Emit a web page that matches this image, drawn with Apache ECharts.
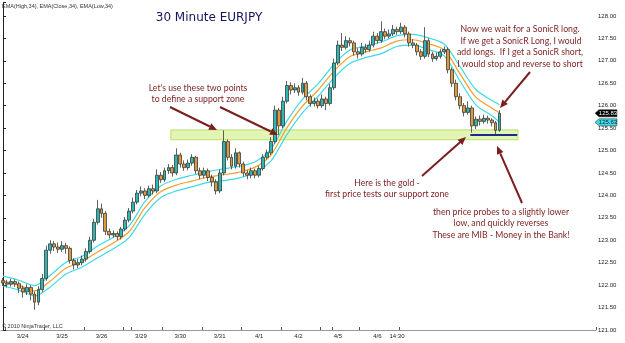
<!DOCTYPE html>
<html><head><meta charset="utf-8">
<script src="https://cdn.jsdelivr.net/npm/echarts/dist/echarts.min.js"></script>
<style>html,body{margin:0;padding:0;background:#fff}#c{width:625px;height:343px}</style>
</head><body><div id="c"></div>
<script>
// ---- data ----
const dayLabels = ['3/24','3/25','3/26','3/29','3/30','3/31','4/1','4/2','4/5','4/6'];
const timeLabel = '14:30';
const tickBars = [1,11,21,31,33,41,51,61,71,81,84,91,101];
const yTicks = [121,121.5,122,122.5,123,123.5,124,124.5,125,125.5,126,126.5,127,127.5,128];

const opens = [122.10,122.05,122.02,122.08,122.03,121.93,121.85,121.95,121.80,121.62,
 121.90,122.15,122.78,122.92,122.85,122.80,122.88,122.82,122.55,122.45,
 122.50,122.58,122.75,123.00,123.40,123.70,123.60,123.20,123.12,123.15,
 123.08,123.25,123.45,123.65,123.85,124.05,124.10,124.00,124.15,124.10,
 124.45,124.35,124.55,124.62,124.50,124.90,124.70,124.62,124.72,124.85,
 124.55,124.45,124.55,124.40,124.30,124.10,124.50,125.20,124.85,124.65,
 124.95,124.70,124.50,124.45,124.55,124.45,124.60,124.85,124.95,125.20,
 125.90,125.55,126.10,126.45,126.35,126.40,126.30,126.50,126.20,126.05,
 126.10,126.00,126.15,126.05,126.40,126.95,127.35,127.30,127.45,127.40,
 127.20,127.15,127.30,127.25,127.35,127.55,127.45,127.65,127.55,127.60,
 127.70,127.65,127.75,127.60,127.40,127.35,127.20,127.10,127.45,127.15,
 127.05,127.10,127.20,127.25,126.80,126.50,126.20,126.00,125.85,125.95,
 125.55,125.70,125.65,125.72,125.68,125.62,125.45];
const closes = [122.05,122.02,122.08,122.03,121.93,121.85,121.95,121.80,121.62,121.90,
 122.15,122.78,122.92,122.85,122.80,122.88,122.82,122.55,122.45,122.50,
 122.58,122.75,123.00,123.40,123.70,123.60,123.20,123.12,123.15,123.08,
 123.25,123.45,123.65,123.85,124.05,124.10,124.00,124.15,124.10,124.45,
 124.35,124.55,124.62,124.50,124.90,124.70,124.62,124.72,124.85,124.55,
 124.45,124.55,124.40,124.30,124.10,124.50,125.20,124.85,124.65,124.95,
 124.70,124.50,124.45,124.55,124.45,124.60,124.85,124.95,125.20,125.90,
 125.55,126.10,126.45,126.35,126.40,126.30,126.50,126.20,126.05,126.10,
 126.00,126.15,126.05,126.40,126.95,127.35,127.30,127.45,127.40,127.20,
 127.15,127.30,127.25,127.35,127.55,127.45,127.65,127.55,127.60,127.70,
 127.65,127.75,127.60,127.40,127.35,127.20,127.10,127.45,127.15,127.05,
 127.10,127.20,127.25,126.80,126.50,126.20,126.00,125.85,125.95,125.55,
 125.70,125.65,125.72,125.68,125.62,125.45,125.83];
const highs = [122.16,122.12,122.14,122.13,122.08,121.99,122.02,122.00,121.86,121.98,
 122.25,122.88,123.00,122.98,122.95,122.98,122.94,122.86,122.60,122.58,
 122.66,122.82,123.08,123.48,123.90,123.82,123.65,123.26,123.22,123.20,
 123.30,123.52,123.72,123.95,124.12,124.20,124.16,124.22,124.24,124.58,
 124.52,124.62,124.70,124.68,125.05,124.95,124.78,124.80,124.92,124.88,
 124.62,124.62,124.60,124.46,124.36,124.58,125.45,125.25,124.92,125.05,
 124.98,124.75,124.56,124.62,124.60,124.66,124.92,125.02,125.30,126.00,
 125.95,126.20,126.55,126.52,126.50,126.46,126.62,126.55,126.25,126.18,
 126.16,126.25,126.20,126.48,127.05,127.45,127.62,127.55,127.52,127.45,
 127.28,127.40,127.38,127.45,127.65,127.62,127.88,127.72,127.70,127.80,
 127.76,127.85,127.80,127.65,127.48,127.40,127.26,127.75,127.50,127.20,
 127.18,127.26,127.32,127.30,126.85,126.58,126.28,126.06,126.10,126.00,
 125.76,125.78,125.80,125.78,125.72,125.66,125.90];
const lows = [121.98,121.95,121.97,121.96,121.82,121.72,121.78,121.66,121.45,121.55,
 121.85,122.10,122.70,122.76,122.72,122.74,122.70,122.48,122.35,122.38,
 122.44,122.52,122.70,122.95,123.35,123.50,123.12,123.04,123.06,123.00,
 123.02,123.20,123.40,123.60,123.80,123.98,123.92,123.95,124.02,124.05,
 124.28,124.30,124.48,124.42,124.45,124.62,124.55,124.56,124.66,124.48,
 124.36,124.38,124.32,124.20,124.02,124.05,124.45,124.78,124.58,124.60,
 124.62,124.42,124.36,124.38,124.38,124.40,124.55,124.80,124.90,125.15,
 125.35,125.50,126.05,126.25,126.28,126.22,126.25,126.12,125.98,125.98,
 125.94,125.95,125.90,126.00,126.35,126.90,127.22,127.25,127.32,127.12,
 127.05,127.10,127.18,127.20,127.30,127.38,127.40,127.48,127.50,127.55,
 127.58,127.60,127.52,127.32,127.28,127.12,127.02,127.05,127.08,126.98,
 127.00,127.05,127.15,126.72,126.42,126.12,125.92,125.76,125.80,125.40,
 125.48,125.56,125.60,125.60,125.54,125.33,125.42];

// EMA lines, read at every 4th bar
const emaBars  = [0,4,8,12,16,20,24,28,32,36,40,44,48,52,56,60,64,68,72,76,80,84,88,92,96,100,104,108,112,116,120,124,126];
const emaMid   = [122.09,122.00,121.87,122.09,122.38,122.52,122.74,122.94,123.19,123.72,124.08,124.23,124.32,124.41,124.46,124.52,124.63,124.90,125.50,125.99,126.35,126.77,127.09,127.20,127.29,127.44,127.47,127.38,127.24,126.71,126.19,125.95,125.84];
const emaHigh  = [122.20,122.11,121.99,122.22,122.51,122.64,122.87,123.07,123.32,123.86,124.21,124.36,124.45,124.53,124.59,124.65,124.75,125.03,125.65,126.14,126.49,126.92,127.24,127.33,127.42,127.56,127.59,127.51,127.37,126.87,126.36,126.12,126.02];
const emaLow   = [121.98,121.89,121.76,121.96,122.25,122.40,122.61,122.81,123.06,123.58,123.95,124.10,124.19,124.29,124.33,124.39,124.51,124.77,125.35,125.84,126.21,126.62,126.94,127.07,127.16,127.32,127.35,127.25,127.11,126.55,126.02,125.78,125.63];

const supportZone = {fromBar: 42.6, toBar: 130.7, top: 125.46, bottom: 125.24};
const probeLine = {fromBar: 118.6, toBar: 130.5, price: 125.35};
const lastPrice = 125.83;
const lastEmaLow = 125.63;

const TOTAL_BARS = 151;
const BARS_PER_DAY = 10;

// ---- chart ----
const categories = [];
for (let i = 0; i < TOTAL_BARS; i++) categories.push('b' + i);
function barLabel(i) {
  if (i === 100) return timeLabel;
  if (i % BARS_PER_DAY === 5) { const d = dayLabels[(i - 5) / BARS_PER_DAY]; return d || ''; }
  return '';
}
const candleData = opens.map((o, i) => [o, closes[i], lows[i], highs[i]]);
const pairs = arr => emaBars.map((b, i) => [b, arr[i]]);

const chart = echarts.init(document.getElementById('c'), null, {renderer: 'canvas'});
const red = '#7b1e1e';
const annFont = 'Lato';

function txt(x, y, s, opts) {
  return Object.assign({type: 'text', x: x, y: y, z: 50, style: Object.assign({
    text: s, fill: red, font: '8.7px ' + annFont, textAlign: 'center', textVerticalAlign: 'middle'}, opts || {})});
}
function arrow(x1, y1, x2, y2) {
  const a = Math.atan2(y2 - y1, x2 - x1), L = 8, W = 3.5;
  const bx = x2 - L * Math.cos(a), by = y2 - L * Math.sin(a);
  const px = -Math.sin(a) * W, py = Math.cos(a) * W;
  return [
    {type: 'line', z: 50, shape: {x1: x1, y1: y1, x2: bx, y2: by}, style: {stroke: red, lineWidth: 2}},
    {type: 'polygon', z: 50, shape: {points: [[x2, y2], [bx + px, by + py], [bx - px, by - py]]}, style: {fill: red}}
  ];
}

const option = {
  animation: false,
  backgroundColor: '#fff',
  grid: {left: 0, right: 29, top: 2.5, bottom: 13, containLabel: false},
  xAxis: [{
    type: 'category', data: categories, boundaryGap: true,
    axisLine: {lineStyle: {color: '#999', width: 1}},
    axisTick: {show: true, inside: true, length: 3, interval: i => tickBars.indexOf(i) >= 0, lineStyle: {color: '#555'}},
    axisLabel: {interval: 0, formatter: (v, i) => barLabel(i), fontSize: 6, color: '#222', margin: 3, fontFamily: 'Liberation Sans'},
    splitLine: {show: false}
  }, {
    type: 'value', min: -0.5, max: TOTAL_BARS - 0.5, show: false
  }],
  yAxis: [{
    type: 'value', position: 'right', min: 121, max: 128.3, interval: 0.5,
    axisLine: {show: true, lineStyle: {color: '#222'}},
    axisTick: {show: true, length: 3, lineStyle: {color: '#222'}},
    axisLabel: {fontSize: 6, color: '#222', margin: 2, fontFamily: 'Liberation Sans',
      formatter: v => (yTicks.indexOf(Math.round(v * 100) / 100) >= 0 ? v.toFixed(2) : '')},
    splitLine: {show: false}
  }],
  series: [
    {type: 'line', xAxisIndex: 1, yAxisIndex: 0, data: [], z: 1,
     markArea: {silent: true, itemStyle: {color: '#e3f5b4', borderColor: '#b6df6c', borderWidth: 1},
       data: [[{xAxis: supportZone.fromBar, yAxis: supportZone.top}, {xAxis: supportZone.toBar, yAxis: supportZone.bottom}]]}},
    {type: 'line', xAxisIndex: 1, yAxisIndex: 0, data: pairs(emaHigh), z: 3, smooth: 0.3, showSymbol: false,
     lineStyle: {color: '#3fd9e6', width: 1.2}},
    {type: 'line', xAxisIndex: 1, yAxisIndex: 0, data: pairs(emaLow), z: 3, smooth: 0.3, showSymbol: false,
     lineStyle: {color: '#3fd9e6', width: 1.2}},
    {type: 'line', xAxisIndex: 1, yAxisIndex: 0, data: pairs(emaMid), z: 3, smooth: 0.3, showSymbol: false,
     lineStyle: {color: '#f0a02c', width: 1.2}},
    {type: 'candlestick', xAxisIndex: 0, yAxisIndex: 0, data: candleData, z: 4, barWidth: 3.4,
     itemStyle: {color: '#2cb7b2', color0: '#dc9a3a', borderColor: '#3a3a3a', borderColor0: '#3a3a3a', borderWidth: 0.8}},
    {type: 'line', xAxisIndex: 1, yAxisIndex: 0, data: [], z: 5,
     markLine: {silent: true, symbol: 'none', label: {show: false}, lineStyle: {color: '#1c2a8c', width: 2, type: 'solid'},
       data: [[{coord: [probeLine.fromBar, probeLine.price]}, {coord: [probeLine.toBar, probeLine.price]}]]}}
  ]
};
chart.setOption(option);

// annotations and axis badges
const g = [];
g.push({type: 'text', x: 2, y: 3, z: 50, style: {text: 'EMA(High,34), EMA(Close,34), EMA(Low,34)', fill: '#333', font: '5.5px "Liberation Sans"'}});
g.push({type: 'text', x: 2, y: 323, z: 50, style: {text: '\u00a9 2010 NinjaTrader, LLC', fill: '#333', font: '5.5px "Liberation Sans"'}});
g.push({type: 'text', x: 209, y: 18, z: 50, style: {text: '30 Minute EURJPY', fill: '#14145e', font: '12px "DejaVu Sans"', textAlign: 'center', textVerticalAlign: 'middle'}});
g.push(txt(198, 88, "Let's use these two points"));
g.push(txt(198, 99.5, 'to define a support zone'));
g.push(txt(387, 183, 'Here is the gold -'));
g.push(txt(387, 194.5, 'first price tests our support zone'));
g.push(txt(520, 29.5, 'Now we wait for a SonicR long.'));
g.push(txt(521, 41, 'If we get a SonicR Long, I would'));
g.push(txt(520, 52.5, 'add longs.  If I get a SonicR short,'));
g.push(txt(520, 64, 'I would stop and reverse to short'));
g.push(txt(501, 212, 'then price probes to a slightly lower'));
g.push(txt(501, 223.5, 'low, and quickly reverses'));
g.push(txt(501, 235, 'These are MIB - Money in the Bank!'));
[[170,107,217,130],[220,107,278,135],[422,176,466,137],[530,72,500,108],[522,203,497,146]].forEach(a => g.push(...arrow(a[0],a[1],a[2],a[3])));

const axisX = chart.convertToPixel({xAxisIndex: 1}, TOTAL_BARS - 0.5);
function badge(price, bg, fg) {
  const y = chart.convertToPixel({yAxisIndex: 0}, price);
  g.push({type: 'polygon', z: 60, shape: {points: [[axisX - 1, y], [axisX + 3, y - 3.5], [axisX + 21, y - 3.5], [axisX + 21, y + 3.5], [axisX + 3, y + 3.5]]}, style: {fill: bg, stroke: '#222', lineWidth: 0.5}});
  g.push({type: 'text', z: 61, x: axisX + 12, y: y, style: {text: price.toFixed(2), fill: fg, font: '6px "Liberation Sans"', textAlign: 'center', textVerticalAlign: 'middle'}});
}
badge(lastEmaLow, '#3fd9e6', '#123');
badge(lastPrice, '#000', '#fff');
chart.setOption({graphic: g});
</script>
</body></html>
